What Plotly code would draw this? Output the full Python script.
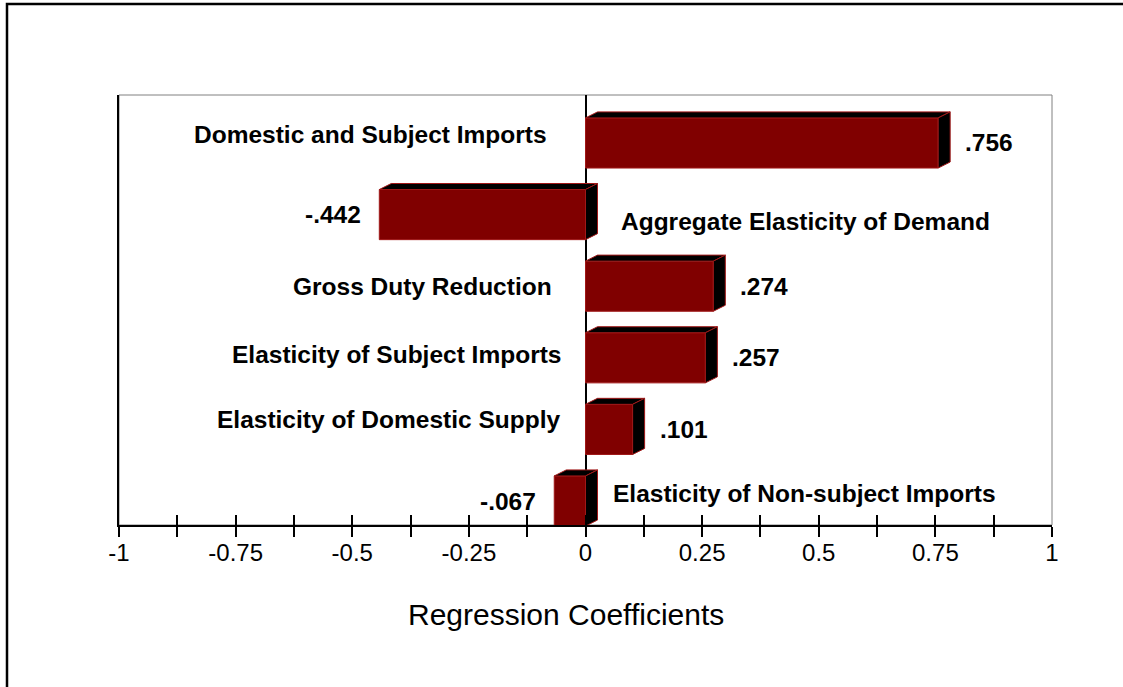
import plotly.graph_objects as go

# Regression coefficients, top to bottom as drawn
categories = [
    "Domestic and Subject Imports",
    "Aggregate Elasticity of Demand",
    "Gross Duty Reduction",
    "Elasticity of Subject Imports",
    "Elasticity of Domestic Supply",
    "Elasticity of Non-subject Imports",
]
coefficients = [0.756, -0.442, 0.274, 0.257, 0.101, -0.067]
tick_values = [-1, -0.75, -0.5, -0.25, 0, 0.25, 0.5, 0.75, 1]
tick_labels = ["-1", "-0.75", "-0.5", "-0.25", "0", "0.25", "0.5", "0.75", "1"]

BAR_RED = "#800000"
EDGE_RED = "#a01818"
W, H = 1123, 687
ML, MR, MT, MB = 119, 71, 95, 162
PW, PH = W - ML - MR, H - MT - MB

# 3d depth of the bars, in axis units
DX = 12 / (PW / 2.0)
DY = 0.084
HALF = 0.35

# small layout nudges for the category labels (px)
label_dx = [-37, 33, -32, -23, -24, 25]
label_dy = [8, -7, 0, 3, 10, 8]

pos = list(range(len(categories)))

fig = go.Figure()

# front faces
fig.add_trace(go.Bar(
    x=coefficients, y=pos, orientation="h", width=2 * HALF,
    marker=dict(color=BAR_RED, line=dict(color=EDGE_RED, width=1)),
    hoverinfo="skip", showlegend=False,
))

# top and side faces
top_x, top_y, side_x, side_y = [], [], [], []
for v, p in zip(coefficients, pos):
    lo, hi = min(0, v), max(0, v)
    t = p - HALF
    b = p + HALF
    top_x += [lo, hi, hi + DX, lo + DX, lo, None]
    top_y += [t, t, t - DY, t - DY, t, None]
    side_x += [hi, hi + DX, hi + DX, hi, hi, None]
    side_y += [t, t - DY, b - DY, b, t, None]

for xs, ys in [(top_x, top_y), (side_x, side_y)]:
    fig.add_trace(go.Scatter(
        x=xs, y=ys, mode="lines", fill="toself", fillcolor="black",
        line=dict(color=EDGE_RED, width=1), hoverinfo="skip", showlegend=False,
    ))

# dummy trace so the inside-tick axis is drawn
fig.add_trace(go.Scatter(x=[None], y=[None], xaxis="x2", showlegend=False, hoverinfo="skip"))

bold = dict(family="Liberation Sans, Arial", size=24.5, color="black")
annotations = []
for i, (name, v, p) in enumerate(zip(categories, coefficients, pos)):
    # category name on the opposite side of zero
    annotations.append(dict(
        x=0, y=p, xref="x", yref="y", text="<b>%s</b>" % name, showarrow=False,
        xanchor="right" if v > 0 else "left", xshift=label_dx[i], yshift=label_dy[i],
        font=bold,
    ))
    # value label at the bar end
    txt = ("%.3f" % v).replace("0.", ".", 1)
    if v > 0:
        annotations.append(dict(x=v + DX, y=p, xref="x", yref="y", text="<b>%s</b>" % txt,
                                showarrow=False, xanchor="left", xshift=13, font=bold))
    else:
        annotations.append(dict(x=v, y=p, xref="x", yref="y", text="<b>%s</b>" % txt,
                                showarrow=False, xanchor="right", xshift=-16, font=bold))

annotations.append(dict(
    x=(566 - ML) / PW, y=-(614 - (MT + PH)) / PH, xref="paper", yref="paper",
    text="Regression Coefficients", showarrow=False, xanchor="center", yanchor="middle",
    font=dict(family="Liberation Sans, Arial", size=30, color="black"),
))

shapes = [
    # gray frame top / right
    dict(type="rect", xref="paper", yref="paper", x0=0, x1=1, y0=0, y1=1,
         line=dict(color="#808080", width=1), layer="below"),
    # outer border (only left and top fall inside the page)
    dict(type="rect", xref="paper", yref="paper",
         x0=(7 - ML) / PW, x1=(W + 20 - ML) / PW,
         y0=-(H + 20 - MT - PH) / PH, y1=1 + (MT - 4) / PH,
         line=dict(color="black", width=2.5)),
]

fig.update_layout(
    width=W, height=H,
    margin=dict(l=ML, r=MR, t=MT, b=MB),
    paper_bgcolor="white", plot_bgcolor="white",
    showlegend=False,
    annotations=annotations,
    shapes=shapes,
    xaxis=dict(
        range=[-1, 1], tickvals=tick_values, ticktext=tick_labels,
        ticks="outside", ticklen=10, tickwidth=1.5, tickcolor="black",
        minor=dict(dtick=0.125, tick0=0, ticks="outside", ticklen=10, tickwidth=1.5, tickcolor="black"),
        showline=True, linecolor="black", linewidth=2,
        showgrid=False, zeroline=True, zerolinecolor="black", zerolinewidth=1.5,
        tickfont=dict(family="Liberation Sans, Arial", size=24, color="black"),
        ticklabelstandoff=-5,
        fixedrange=True,
    ),
    xaxis2=dict(
        range=[-1, 1], overlaying="x", side="bottom", dtick=0.125, tick0=0,
        ticks="inside", ticklen=10, tickwidth=1.5, tickcolor="black",
        showticklabels=False, showline=False, showgrid=False, zeroline=False,
    ),
    yaxis=dict(
        range=[5.335, -0.67], showticklabels=False, ticks="",
        showline=True, linecolor="black", linewidth=2,
        showgrid=False, zeroline=False, fixedrange=True,
    ),
)

# page margin off so the figure sits at the top-left corner
fig.write_html("out.html", config={"displayModeBar": False},
               post_script="document.body.style.margin='0px';")
